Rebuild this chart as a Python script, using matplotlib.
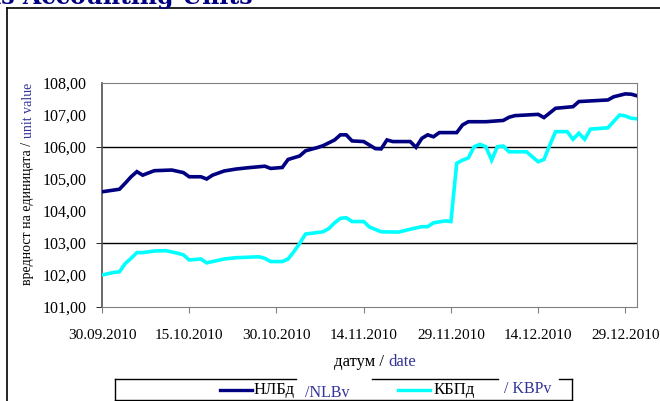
import matplotlib
matplotlib.use('Agg')
import matplotlib.pyplot as plt
import pandas as pd
from matplotlib.lines import Line2D

# unit values, x = days after 30.09.2010
start = pd.Timestamp('2010-09-30')

nlb_day = [0, 3, 4, 5, 6, 7, 9, 12, 14, 15, 17, 18, 19, 21, 23, 25, 28, 29, 31, 32,
           34, 35, 37, 38, 40, 41, 42, 43, 45, 46, 47, 48, 49, 50, 53, 54, 55, 56, 57, 58,
           61, 62, 63, 66, 69, 70, 71, 75, 76, 78, 81, 82, 87, 88, 90, 91, 92]
nlb_val = [104.60, 104.68, 104.87, 105.07, 105.23, 105.12, 105.26, 105.28, 105.20, 105.07,
           105.07, 105.00, 105.12, 105.25, 105.31, 105.35, 105.40, 105.33, 105.36, 105.61,
           105.72, 105.88, 105.98, 106.04, 106.22, 106.38, 106.38, 106.19, 106.17, 106.06,
           105.95, 105.94, 106.22, 106.17, 106.17, 105.99, 106.27, 106.38, 106.32, 106.45,
           106.45, 106.69, 106.79, 106.79, 106.83, 106.93, 106.98, 107.02, 106.92, 107.21,
           107.26, 107.42, 107.47, 107.57, 107.66, 107.65, 107.60]

kbp_day = [0, 2, 3, 4, 5, 6, 7, 9, 11, 13, 14, 15, 17, 18, 19, 21, 23, 27, 28, 29,
           31, 32, 33, 34, 35, 38, 39, 40, 41, 42, 43, 45, 46, 48, 51, 53, 55, 56, 57, 59,
           60, 61, 62, 63, 64, 65, 66, 67, 68, 69, 70, 73, 75, 76, 77, 78, 80, 81, 82, 83,
           84, 87, 89, 90, 91, 92]
kbp_val = [102.00, 102.08, 102.10, 102.36, 102.52, 102.70, 102.70, 102.75, 102.76, 102.68,
           102.63, 102.47, 102.50, 102.38, 102.42, 102.50, 102.54, 102.57, 102.52, 102.42,
           102.42, 102.50, 102.73, 102.99, 103.28, 103.35, 103.45, 103.63, 103.77, 103.79,
           103.67, 103.67, 103.50, 103.35, 103.34, 103.43, 103.51, 103.51, 103.63, 103.69,
           103.67, 105.49, 105.59, 105.66, 106.01, 106.08, 106.01, 105.59, 106.01, 106.03,
           105.85, 105.85, 105.54, 105.61, 106.06, 106.48, 106.48, 106.24, 106.43, 106.24,
           106.56, 106.60, 107.00, 106.97, 106.90, 106.88]

xtick_days = [0, 15, 30, 45, 60, 75, 90]
ytick_vals = [101, 102, 103, 104, 105, 106, 107, 108]
grid_vals = [103, 106]

W, H = 660, 401
NAVY = '#000080'
CYAN = '#00FFFF'
BLUE_TXT = '#333399'

plt.rcParams['font.family'] = ['Liberation Serif', 'DejaVu Serif']


def fx(x):
    return x / W


def fy(y):
    return 1 - y / H


fig = plt.figure(figsize=(W / 100, H / 100), dpi=100)
ax = fig.add_axes([fx(102), fy(307), (637 - 102) / W, (307 - 83) / H])

nlb_dates = [start + pd.Timedelta(days=d) for d in nlb_day]
kbp_dates = [start + pd.Timedelta(days=d) for d in kbp_day]
xt = [start + pd.Timedelta(days=d) for d in xtick_days]

for v in grid_vals:
    ax.axhline(v, color='black', lw=1, zorder=1)
ax.plot(nlb_dates, nlb_val, color=NAVY, lw=2.6, solid_joinstyle='miter', zorder=3)
ax.plot(kbp_dates, kbp_val, color=CYAN, lw=2.6, solid_joinstyle='miter', zorder=3)

ax.set_xlim(start, start + pd.Timedelta(days=92))
ax.set_ylim(101, 108)

ax.set_xticks(xt)
ax.set_xticklabels([d.strftime('%d.%m.%Y') for d in xt], fontsize=11)
ax.tick_params(axis='x', length=4, color='#808080', pad=12)

# labels on every integer, tick marks only where the gridlines are
ax.yaxis.remove_overlapping_locs = False
ax.set_yticks(ytick_vals)
ax.set_yticklabels([f'{v:.2f}'.replace('.', ',') for v in ytick_vals], fontsize=11.5)
ax.tick_params(axis='y', which='major', length=0, pad=11)
ax.set_yticks([101] + grid_vals, minor=True)
ax.tick_params(axis='y', which='minor', length=4, color='black')

for s in ['top', 'right', 'bottom']:
    ax.spines[s].set_color('#808080')
ax.spines['left'].set_color('#505050')
ax.spines['left'].set_linewidth(1.2)

# outer chart frame
fig.add_artist(Line2D([fx(7), fx(7)], [fy(8), fy(405)], color='black', lw=1.2))
fig.add_artist(Line2D([fx(7), fx(665)], [fy(8), fy(8)], color='black', lw=1.2))

fig.canvas.draw()
rend = fig.canvas.get_renderer()

# clipped title at the top
fig.text(fx(253), fy(4), 'as Accounting Units', ha='right', va='baseline',
         fontsize=17, fontweight='bold', color=NAVY, family='DejaVu Serif')

# x label, two colours
p1 = fig.text(0, fy(362), 'датум /', fontsize=12, va='center')
p2 = fig.text(0, fy(362), 'date', fontsize=12, va='center', color=BLUE_TXT)
w1 = p1.get_window_extent(rend).width
w2 = p2.get_window_extent(rend).width
x0 = 375 - (w1 + w2 + 4) / 2
p1.set_x(fx(x0))
p2.set_x(fx(x0 + w1 + 4))

# y label, two colours, rotated
q1 = fig.text(fx(28), fy(285), 'вредност на единицата /', rotation=90, fontsize=10,
              ha='center', va='bottom')
h1 = q1.get_window_extent(rend).height
fig.text(fx(28), fy(285 - h1 - 4), 'unit value', rotation=90, fontsize=10,
         ha='center', va='bottom', color=BLUE_TXT)

# legend box with gaps under the text boxes
lk = dict(color='black', lw=1, transform=fig.transFigure)
fig.add_artist(Line2D([fx(115), fx(115)], [fy(379), fy(400)], **lk))
fig.add_artist(Line2D([fx(572), fx(572)], [fy(379), fy(400)], **lk))
fig.add_artist(Line2D([fx(115), fx(572)], [fy(400), fy(400)], **lk))
for a, b in [(115, 296), (372, 498), (559, 572)]:
    fig.add_artist(Line2D([fx(a), fx(b)], [fy(379), fy(379)], **lk))

fig.add_artist(Line2D([fx(220), fx(252)], [fy(390), fy(390)], color=NAVY, lw=2.4))
fig.text(fx(254), fy(390), 'НЛБд', fontsize=12, va='center')
fig.text(fx(305), fy(393), '/NLBv', fontsize=11.5, va='center', color=BLUE_TXT)
fig.add_artist(Line2D([fx(398), fx(430)], [fy(390), fy(390)], color=CYAN, lw=2.4))
fig.text(fx(434), fy(390), 'КБПд', fontsize=12, va='center')
fig.text(fx(504), fy(389), '/ KBPv', fontsize=11.5, va='center', color=BLUE_TXT)

fig.savefig('out.png', dpi=100)
